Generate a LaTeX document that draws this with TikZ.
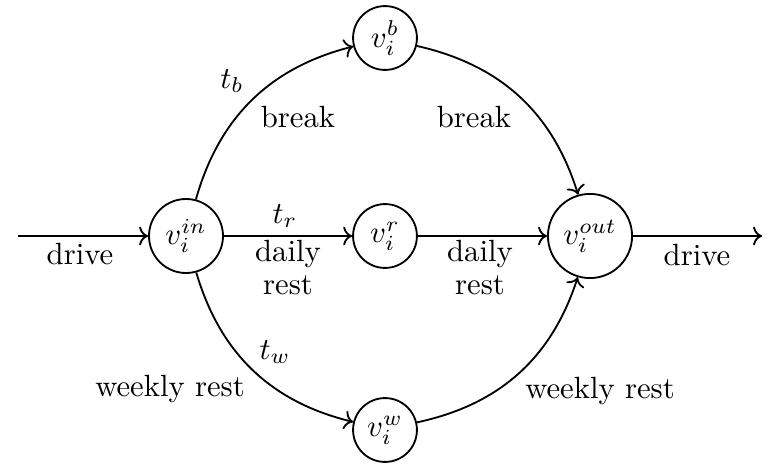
\documentclass[tikz,border=0pt]{standalone}
\usetikzlibrary{arrows.meta}
\begin{document}
\begin{tikzpicture}[x=0.3257pt,y=-0.3257pt,
  state/.style={draw,circle,semithick,inner sep=0pt,minimum size=#1},
  edge/.style={->,semithick},
  lbl/.style={inner sep=0pt,align=center},
  bl/.style={inner sep=0pt,anchor=base}]
\useasboundingbox (0,0) rectangle (767,464);
\node[state=24.1pt] (in) at (186,236) {$v_i^{in}$};
\node[state=20.8pt] (b) at (385,38) {$v_i^{b}$};
\node[state=20.8pt] (r) at (385,236) {$v_i^{r}$};
\node[state=20.8pt] (w) at (385,430) {$v_i^{w}$};
\node[state=27.4pt] (out) at (590,236) {$v_i^{out}$};
\coordinate (s) at (18,236);
\coordinate (e) at (762,236);
\draw[edge] (s) -- (in);
\draw[edge] (out) -- (e);
\draw[edge] (in) -- (r);
\draw[edge] (r) -- (out);
\draw[edge] (in) to[bend left=30] (b);
\draw[edge] (b) to[bend left=30] (out);
\draw[edge] (in) to[bend right=30] (w);
\draw[edge] (w) to[bend right=30] (out);
\node[lbl] (l1) at (80,254) {drive};
\node[lbl] (l2) at (697,255) {drive};
\node[lbl] (l3) at (232,81) {$t_b$};
\node[lbl] (l4) at (298,117) {break};
\node[lbl] (l5) at (474,117) {break};
\node[lbl] (l6) at (285,216) {$t_r$};
\node[bl] (l7a) at (288,261) {daily};
\node[bl] (l7b) at (288,295) {rest};
\node[bl] (l8a) at (480,261) {daily};
\node[bl] (l8b) at (480,295) {rest};
\node[lbl] (l9) at (275,352) {$t_w$};
\node[lbl] (l10) at (170,389) {weekly rest};
\node[lbl] (l11) at (600,391) {weekly rest};
\end{tikzpicture}
\end{document}
